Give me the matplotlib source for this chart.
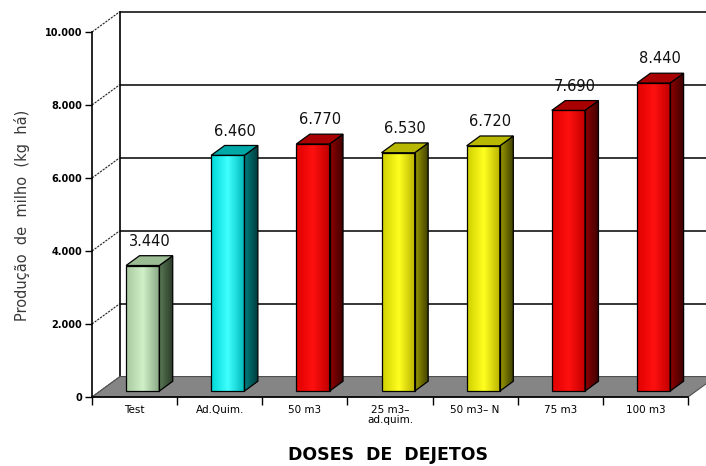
import matplotlib
matplotlib.use("Agg")
import matplotlib.pyplot as plt
from matplotlib.patches import Polygon
from matplotlib.colors import LinearSegmentedColormap
import numpy as np

categories = ["Test", "Ad.Quim.", "50 m3", "25 m3\u2013\nad.quim.", "50 m3\u2013 N", "75 m3", "100 m3"]
values = [3440, 6460, 6770, 6530, 6720, 7690, 8440]
kinds = ["test", "quim", "red", "yellow", "yellow", "red", "red"]
yticks = [0, 2000, 4000, 6000, 8000, 10000]

# front / side / top colours for each kind of bar
palette = {
    "test":   (["#a8c8a0", "#d0f0c8", "#88a884"], ["#5a7a56", "#2a3a28"], "#9cbc94"),
    "quim":   (["#00d8d8", "#40ffff", "#00b8b8"], ["#008080", "#003c3c"], "#00a8a8"),
    "red":    (["#e00000", "#ff1010", "#c00000"], ["#900000", "#3c0000"], "#a80000"),
    "yellow": (["#d0d000", "#ffff20", "#b8b000"], ["#9a9a00", "#3c3c00"], "#b8b800"),
}

fig = plt.figure(figsize=(7.06, 4.66), dpi=100)
ax = fig.add_axes([92/706, 69/466, 596/706, 365/466])

n = len(values)
x = np.arange(n)
Dx, Dy = 0.329, 560     # full depth of the floor in data units
f, d, w = 0.29, 0.48, 0.39   # bar front depth, bar depth, bar width

# floor
ax.add_patch(Polygon([(-0.5, 0), (n - 0.5, 0), (n - 0.5 + Dx, Dy), (-0.5 + Dx, Dy)],
                     closed=True, facecolor="#858585", edgecolor="#505050", lw=0.8,
                     zorder=1, clip_on=False))

# back wall lines and connectors
ax.plot([-0.5 + Dx, -0.5 + Dx], [Dy, 10000 + Dy], color="black", lw=1.2, clip_on=False, zorder=0.5)
for v in yticks[1:]:
    ax.plot([-0.5 + Dx, n + 0.5], [v + Dy, v + Dy], color="black", lw=1.1, clip_on=False, zorder=0.5)
for v in yticks:
    ax.plot([-0.5, -0.5 + Dx], [v, v + Dy], color="#222222", lw=0.8, ls=(0, (2, 1)),
            clip_on=False, zorder=0.6)

# bars
bars = ax.bar(x + f*Dx, values, width=w, bottom=f*Dy, facecolor="none",
              edgecolor="black", lw=0.9, zorder=5)
for i, (b, v) in enumerate(zip(bars, values)):
    fr, sd, tp = palette[kinds[i]]
    xl = x[i] + f*Dx - w/2
    xr = xl + w
    y0 = f*Dy
    y1 = y0 + v
    grad = np.linspace(0, 1, 64).reshape(1, -1)
    im = ax.imshow(grad, extent=(xl, xr, y0, y1), aspect="auto", origin="lower",
                   cmap=LinearSegmentedColormap.from_list("f%d" % i, fr), zorder=4)
    im.set_clip_path(b)
    side = Polygon([(xr, y0), (xr + d*Dx, y0 + d*Dy), (xr + d*Dx, y1 + d*Dy), (xr, y1)],
                   closed=True, facecolor="none", edgecolor="black", lw=0.9, zorder=5)
    ax.add_patch(side)
    ims = ax.imshow(grad, extent=(xr, xr + d*Dx, y0, y1 + d*Dy), aspect="auto", origin="lower",
                    cmap=LinearSegmentedColormap.from_list("s%d" % i, sd), zorder=4)
    ims.set_clip_path(side)
    ax.add_patch(Polygon([(xl, y1), (xr, y1), (xr + d*Dx, y1 + d*Dy), (xl + d*Dx, y1 + d*Dy)],
                         closed=True, facecolor=tp, edgecolor="black", lw=0.9, zorder=5))
    ax.annotate(f"{v:,}".replace(",", "."), (x[i] + (f + d/2)*Dx, y1 + d*Dy),
                xytext=(0, 5), textcoords="offset points", ha="center", va="bottom",
                fontsize=10.5, color="#111111")

ax.set_xlim(-0.5, n - 0.5)
ax.set_ylim(0, 10000)

ax.spines["top"].set_visible(False)
ax.spines["right"].set_visible(False)
ax.spines["left"].set_linewidth(1.2)
ax.spines["bottom"].set_linewidth(1.2)

ax.set_yticks(yticks)
ax.set_yticklabels([f"{v:,}".replace(",", ".") for v in yticks], fontsize=7, fontweight="bold")
ax.tick_params(axis="y", length=5, width=1, pad=2)

ax.set_xticks(np.arange(n + 1) - 0.5)
ax.set_xticklabels([])
ax.set_xticks(x, minor=True)
ax.set_xticklabels(categories, minor=True, fontsize=7.5, linespacing=1.0)
ax.tick_params(axis="x", which="major", length=6, width=1)
ax.tick_params(axis="x", which="minor", length=0, pad=6)

fig.text(22/706, 1 - 215/466, "Produ\u00e7\u00e3o  de  milho  (kg  h\u00e1)", rotation=90,
         ha="center", va="center", fontsize=10.5, color="#3a3a3a")
fig.text(388/706, 1 - 455/466, "DOSES  DE  DEJETOS", ha="center", va="center",
         fontsize=12.5, fontweight="bold")

fig.savefig("out.png", dpi=100)
